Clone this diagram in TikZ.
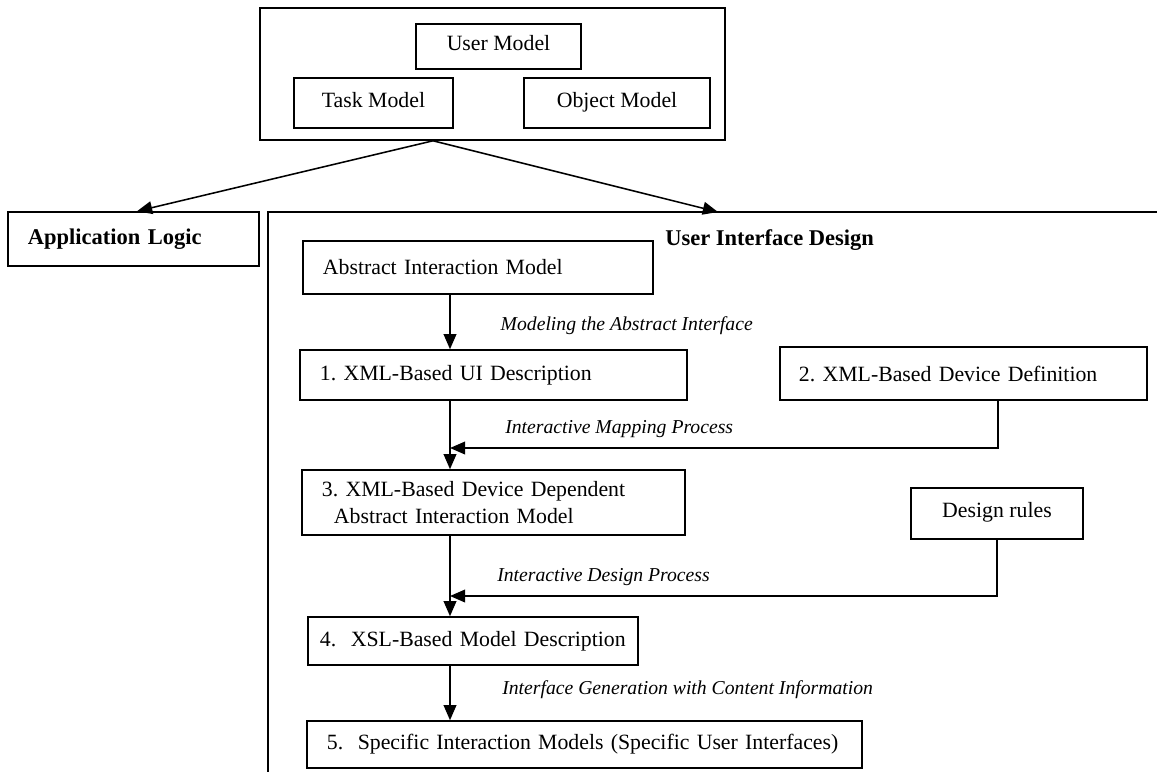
\documentclass[tikz,border=0pt]{standalone}
\usepackage{fontspec}
\setmainfont{Liberation Serif}
\usetikzlibrary{arrows.meta}
\frenchspacing

\begin{document}
\begin{tikzpicture}[
        x=0.025cm, y=-0.025cm,
        box/.style={draw, line width=1.1pt, inner ysep=0pt, font=\fontsize{15.5}{19}\selectfont},
        lbox/.style={box, align=left, inner xsep=0.5cm},
        cbox/.style={box, align=center, inner xsep=0pt, text height=1.6ex, text depth=0.35ex},
        head/.style={font=\fontsize{16}{19}\selectfont\bfseries},
        lbl/.style={font=\fontsize{14}{17}\selectfont\itshape, inner sep=0pt},
        arr/.style={-{Triangle[length=0.38cm, width=0.32cm]}, line width=1.1pt}
    ]
        \useasboundingbox (0,0) rectangle (1157,772);

        % Models on top
        \node[cbox, minimum width=11.625cm, minimum height=3.3cm] (models) at (492.5,74) {};
        \node[cbox, minimum width=4.125cm, minimum height=1.125cm] (user) at (498.5,46.5) {User Model};
        \node[cbox, minimum width=3.975cm, minimum height=1.25cm] (task) at (373.5,103) {Task Model};
        \node[cbox, minimum width=4.65cm, minimum height=1.25cm] (object) at (617,103) {Object Model};

        % Application logic
        \node[lbox, head, text width=5.275cm, minimum height=1.35cm] (app) at (133.5,239) {Application Logic};

        % User interface design frame
        \coordinate (frameTL) at (268,212);
        \coordinate (frameTR) at (1157,212);
        \coordinate (frameBL) at (268,772);
        \draw[line width=1.1pt] (frameTR) -- (frameTL) -- (frameBL);
        \node[head, anchor=west, inner sep=0pt] (uid) at (665,240) {User Interface Design};

        \coordinate (fork) at (433,140);
        \coordinate (tipL) at (137,212);
        \coordinate (tipR) at (718,212);
        \draw[arr] (models.south -| fork) -- (app.north -| tipL);
        \draw[arr] (models.south -| fork) -- (tipR);

        % Design steps
        \node[lbox, text width=7.75cm, minimum height=1.325cm] (abstract) at (478,267.5) {Abstract Interaction Model};
        \node[lbox, text width=8.675cm, minimum height=1.25cm] (uidesc) at (493.5,375) {1. XML-Based UI Description};
        \node[lbox, text width=8.225cm, minimum height=1.325cm, inner xsep=0.475cm] (devdef) at (963.5,373.5) {2. XML-Based Device Definition};
        \node[lbox, text width=8.575cm, minimum height=1.625cm] (devdep) at (493.5,502.5) {3. XML-Based Device Dependent\\\hspace*{0.3cm}Abstract Interaction Model};
        \node[cbox, minimum width=4.3cm, minimum height=1.275cm] (rules) at (997,513.5) {Design rules};
        \node[lbox, text width=7.65cm, minimum height=1.2cm, inner xsep=0.3cm] (xsl) at (473,641) {4.\ \ XSL-Based Model Description};
        \node[lbox, text width=12.875cm, minimum height=1.175cm] (specific) at (584.5,744.5) {5.\ \ Specific Interaction Models (Specific User Interfaces)};

        % Process labels
        \node[lbl, anchor=east] (lblModel) at (753,326) {Modeling the Abstract Interface};
        \node[lbl, anchor=west] (lblMap) at (505,429) {Interactive Mapping Process};
        \node[lbl, anchor=west] (lblDesign) at (497,577) {Interactive Design Process};
        \node[lbl, anchor=west] (lblGen) at (502,690) {Interface Generation with Content Information};

        % Flow
        \coordinate (colA) at (450,0);
        \coordinate (colB) at (998,0);
        \coordinate (mapY) at (0,448);
        \coordinate (desY) at (0,596);
        \draw[arr] (abstract.south -| colA) -- (uidesc.north -| colA);
        \draw[arr] (uidesc.south -| colA) -- (devdep.north -| colA);
        \draw[arr] (devdef.south -| colB) |- (colA |- mapY);
        \draw[arr] (devdep.south -| colA) -- (xsl.north -| colA);
        \draw[arr] (rules.south) |- (colA |- desY);
        \draw[arr] (xsl.south -| colA) -- (specific.north -| colA);
    \end{tikzpicture}
\end{document}
